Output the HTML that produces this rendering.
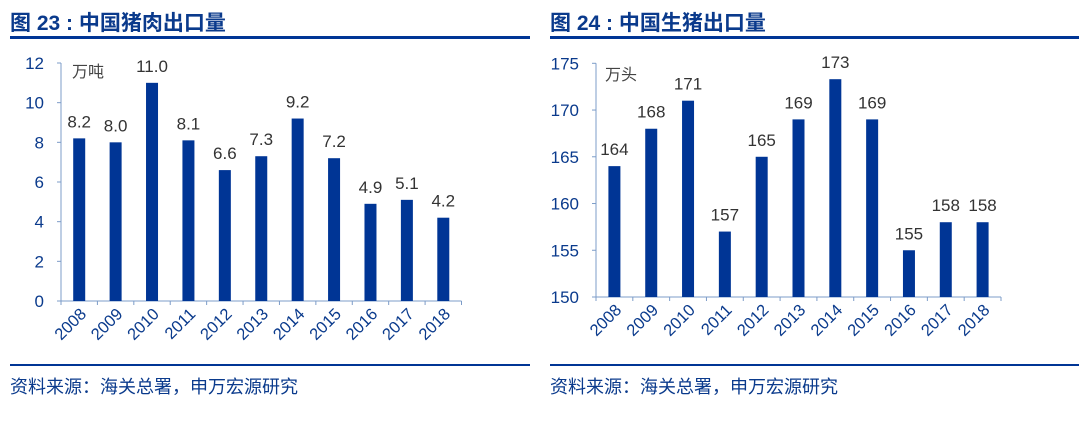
<!DOCTYPE html>
<html><head><meta charset="utf-8"><style>
body{margin:0;background:#fff;width:1089px;height:425px;overflow:hidden}
svg{display:block}
text{font-family:"Liberation Sans","Noto Sans CJK SC",sans-serif}
</style></head><body>
<svg id="s" width="1089" height="425" xmlns="http://www.w3.org/2000/svg">
<text x="10" y="30" font-size="21" font-weight="bold" fill="#0a3a8c">图 23 : 中国猪肉出口量</text>
<rect x="10" y="36" width="520" height="3" fill="#003595"/>
<text x="550" y="30" font-size="21" font-weight="bold" fill="#0a3a8c">图 24 : 中国生猪出口量</text>
<rect x="550" y="36" width="529" height="3" fill="#003595"/>
<rect x="10" y="364" width="520" height="2" fill="#003595"/>
<rect x="550" y="364" width="529" height="2" fill="#003595"/>
<text x="10" y="393" font-size="18" fill="#0a3a8c">资料来源：海关总署，申万宏源研究</text>
<text x="550" y="393" font-size="18" fill="#0a3a8c">资料来源：海关总署，申万宏源研究</text>
<text x="72" y="77" font-size="16" fill="#444">万吨</text>
<text x="605" y="80" font-size="16" fill="#444">万头</text>
</svg>
<script>
var s=document.getElementById('s'),ns='http://www.w3.org/2000/svg';
function el(t,a,txt){var e=document.createElementNS(ns,t);for(var k in a)e.setAttribute(k,a[k]);if(txt!=null)e.textContent=txt;s.appendChild(e);}
function chart(x0,x1,y0,yt,vmin,vmax,step,vals,labs){
 var n=11,w=(x1-x0)/n,sc=(y0-yt)/(vmax-vmin),ax='#7c9cc8';
 el('line',{x1:x0,y1:yt,x2:x0,y2:y0,stroke:ax,'stroke-width':1});
 el('line',{x1:x0,y1:y0,x2:x1,y2:y0,stroke:ax,'stroke-width':1});
 for(var v=vmin;v<=vmax;v+=step){var y=y0-(v-vmin)*sc;
  el('line',{x1:x0-4,y1:y,x2:x0,y2:y,stroke:ax});
  el('text',{x:x0-17,y:y+6,'font-size':17,fill:'#0a3a8c','text-anchor':'end'},v);}
 for(var i=0;i<=n;i++){var x=x0+i*w;el('line',{x1:x,y1:y0,x2:x,y2:y0+4,stroke:ax});}
 for(var i=0;i<n;i++){var cx=x0+(i+0.5)*w,h=(vals[i]-vmin)*sc;
  el('rect',{x:cx-6,y:y0-h,width:12,height:h,fill:'#003595'});
  el('text',{x:cx,y:y0-h-11,'font-size':17,fill:'#333','text-anchor':'middle'},labs[i]);
  el('text',{x:0,y:0,'font-size':16.5,fill:'#0a3a8c','text-anchor':'end',transform:'translate('+(cx+8)+','+(y0+14)+') rotate(-45)'},2008+i);}
}
chart(61,461.5,301,63,0,12,2,[8.2,8.0,11.0,8.1,6.6,7.3,9.2,7.2,4.9,5.1,4.2],['8.2','8.0','11.0','8.1','6.6','7.3','9.2','7.2','4.9','5.1','4.2']);
chart(596,1001,297,63.3,150,175,5,[164,168,171,157,165,169,173.3,169,155,158,158],['164','168','171','157','165','169','173','169','155','158','158']);
</script>
</body></html>
